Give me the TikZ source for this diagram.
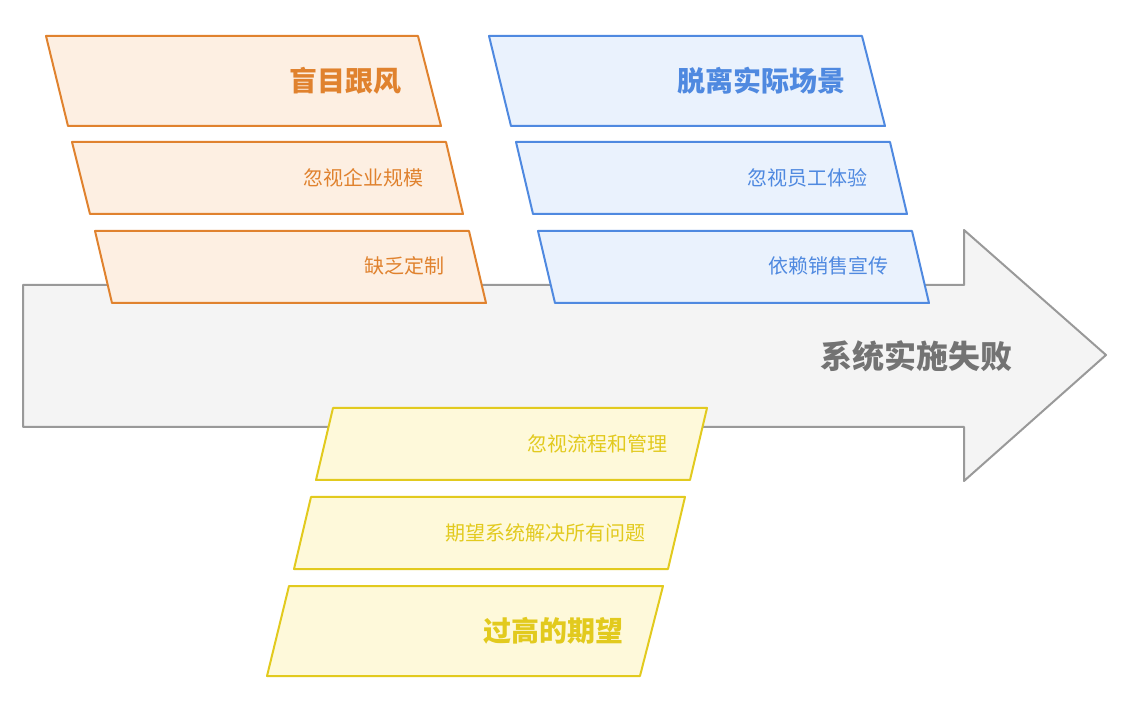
\documentclass[tikz,border=0pt]{standalone}
\usepackage{fontspec}
\newfontfamily\cjk{Noto Sans CJK SC}
\definecolor{oS}{HTML}{E0822E}\definecolor{oF}{HTML}{FDEFE2}
\definecolor{bS}{HTML}{4F89E0}\definecolor{bF}{HTML}{EAF2FD}
\definecolor{yS}{HTML}{E2CA1E}\definecolor{yF}{HTML}{FEF9DA}
\definecolor{gS}{HTML}{999999}\definecolor{gF}{HTML}{F4F4F4}
\begin{document}
\begin{tikzpicture}[x=1pt,y=-1pt,line width=2pt,line join=round,
  small/.style={anchor=east,inner sep=0pt,font=\cjk\fontsize{20}{24}\selectfont},
  big/.style={anchor=east,inner sep=0pt,font=\cjk\bfseries\fontsize{28}{32}\selectfont}]
\useasboundingbox (0,0) rectangle (1128,708);
\draw[gS,fill=gF] (23,285)--(964,285)--(964,230)--(1106,355)--(964,481)--(964,427)--(23,427)--cycle;
\node[anchor=east,inner sep=0pt,text=gray!90!black,font=\cjk\bfseries\fontsize{32}{36}\selectfont] (main) at (1013,356) {系统实施失败};
% orange
\draw[oS,fill=oF] (46,36)--(418,36)--(441,126)--(68,126)--cycle;
\node[big,text=oS] (o1) at (402,81) {盲目跟风};
\draw[oS,fill=oF] (72,142)--(446,142)--(463,214)--(90,214)--cycle;
\node[small,text=oS] (o2) at (424,178) {忽视企业规模};
\draw[oS,fill=oF] (95,231)--(469,231)--(486,303)--(112,303)--cycle;
\node[small,text=oS] (o3) at (445,266) {缺乏定制};
% blue
\draw[bS,fill=bF] (489,36)--(862,36)--(885,126)--(511,126)--cycle;
\node[big,text=bS] (b1) at (846,81) {脱离实际场景};
\draw[bS,fill=bF] (516,142)--(890,142)--(907,214)--(533,214)--cycle;
\node[small,text=bS] (b2) at (868,178) {忽视员工体验};
\draw[bS,fill=bF] (538,231)--(912,231)--(929,303)--(555,303)--cycle;
\node[small,text=bS] (b3) at (889,266) {依赖销售宣传};
% yellow
\draw[yS,fill=yF] (333,408)--(707,408)--(690,480)--(316,480)--cycle;
\node[small,text=yS] (y1) at (668,444) {忽视流程和管理};
\draw[yS,fill=yF] (311,497)--(685,497)--(668,569)--(294,569)--cycle;
\node[small,text=yS] (y2) at (646,533) {期望系统解决所有问题};
\draw[yS,fill=yF] (289,586)--(663,586)--(640,676)--(267,676)--cycle;
\node[big,text=yS] (y3) at (624,631) {过高的期望};
\end{tikzpicture}
\end{document}
